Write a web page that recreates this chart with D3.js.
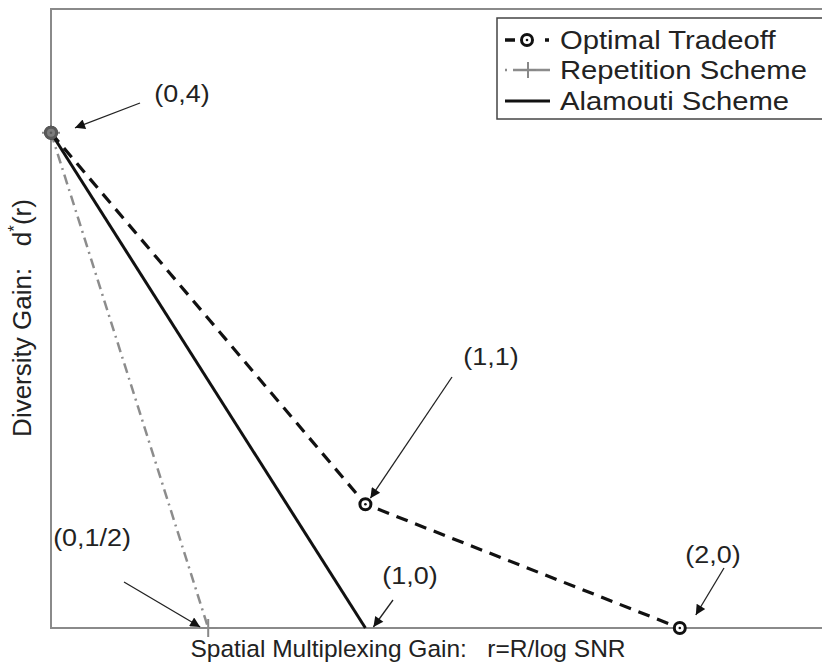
<!DOCTYPE html>
<html><head><meta charset="utf-8">
<script src="https://cdn.jsdelivr.net/npm/d3@7"></script>
<style>body{margin:0;background:#fff}svg{display:block}text{font-family:"Liberation Sans",Arial,sans-serif;fill:#222}</style>
</head><body><svg id="c" width="822" height="665"></svg>
<script>
const optimalR = [0, 1, 2];
const optimalD = [4, 1, 0];
const repetitionR = [0, 0.5];
const repetitionD = [4, 0];
const alamoutiR = [0, 1];
const alamoutiD = [4, 0];
const seriesNames = ["Optimal Tradeoff", "Repetition Scheme", "Alamouti Scheme"];
const annotations = [
  {label: "(0,4)", r: 0, d: 4},
  {label: "(1,1)", r: 1, d: 1},
  {label: "(2,0)", r: 2, d: 0},
  {label: "(1,0)", r: 1, d: 0},
  {label: "(0,1/2)", r: 0.5, d: 0}
];
const xLabel = "Spatial Multiplexing Gain:   r=R/log SNR";

const svg = d3.select("#c");
const L = 51, T = 9, B = 628, R = 837;
const x = d3.scaleLinear().domain([0, 2.5]).range([L, R]);
const y = d3.scaleLinear().domain([0, 5]).range([B, T]);

svg.append("path").attr("d", `M${R},${T}H${L}V${B}H${R}`)
  .attr("fill", "none").attr("stroke", "#8a8a8a").attr("stroke-width", 2);

const line = d3.line().x(d => x(d[0])).y(d => y(d[1]));
const zip = (a, b) => a.map((v, i) => [v, b[i]]);

svg.append("path").attr("d", line(zip(repetitionR, repetitionD)))
  .attr("fill", "none").attr("stroke", "#8c8c8c").attr("stroke-width", 2.5)
  .attr("stroke-dasharray", "10,5,2,5");
svg.append("path").attr("d", line(zip(alamoutiR, alamoutiD)))
  .attr("fill", "none").attr("stroke", "#111").attr("stroke-width", 3);
svg.append("path").attr("d", line(zip(optimalR, optimalD)))
  .attr("fill", "none").attr("stroke", "#111").attr("stroke-width", 3.2)
  .attr("stroke-dasharray", "12,8");

function plus(g, cx, cy, s, col) {
  g.append("path").attr("d", `M${cx - s},${cy}H${cx + s}M${cx},${cy - s}V${cy + s}`)
    .attr("stroke", col).attr("stroke-width", 2);
}
function circ(g, cx, cy) {
  g.append("circle").attr("cx", cx).attr("cy", cy).attr("r", 5.5)
    .attr("fill", "#fff").attr("stroke", "#111").attr("stroke-width", 3);
  g.append("circle").attr("cx", cx).attr("cy", cy).attr("r", 1.3).attr("fill", "#111");
}
zip(repetitionR, repetitionD).forEach(p => plus(svg, x(p[0]), y(p[1]), 9, "#888"));
zip(optimalR, optimalD).forEach(p => circ(svg, x(p[0]), y(p[1])));
svg.append("circle").attr("cx", x(0)).attr("cy", y(4)).attr("r", 7).attr("fill", "#666").attr("opacity", 0.85);

const defs = svg.append("defs");
defs.append("marker").attr("id", "ah").attr("viewBox", "0 0 10 10").attr("refX", 10).attr("refY", 5)
  .attr("markerWidth", 14).attr("markerHeight", 10).attr("markerUnits", "userSpaceOnUse").attr("orient", "auto")
  .append("path").attr("d", "M0,0L10,5L0,10Z").attr("fill", "#111");

const SX = 1.17;
function label(g, tx, ty, txt, fs, anchor) {
  g.append("text").attr("transform", `translate(${tx},${ty}) scale(${SX},1)`)
    .attr("text-anchor", anchor || "middle").attr("font-size", fs).text(txt);
}
const annPos = [
  {tx: 182, ty: 102, sx: 140, sy: 103, ex: x(0) + 24, ey: y(4) - 5},
  {tx: 491, ty: 365, sx: 452, sy: 377, ex: x(1) + 5, ey: y(1) - 6},
  {tx: 713, ty: 563, sx: 724, sy: 568, ex: x(2) + 16, ey: y(0) - 13},
  {tx: 410, ty: 584, sx: 393, sy: 600, ex: x(1) + 8, ey: y(0) - 1},
  {tx: 92, ty: 546, sx: 124, sy: 582, ex: x(0.5) - 8, ey: y(0) - 1}
];
annotations.forEach((a, i) => {
  const p = annPos[i];
  label(svg, p.tx, p.ty, a.label, 23);
  svg.append("line").attr("x1", p.sx).attr("y1", p.sy).attr("x2", p.ex).attr("y2", p.ey)
    .attr("stroke", "#222").attr("stroke-width", 1.3).attr("marker-end", "url(#ah)");
});

svg.append("text").attr("x", 408).attr("y", 657).attr("text-anchor", "middle").attr("font-size", 24.5)
  .attr("xml:space", "preserve").text(xLabel);
const yl = svg.append("text").attr("transform", "translate(31,318) rotate(-90)").attr("text-anchor", "middle")
  .attr("font-size", 26).attr("xml:space", "preserve");
yl.append("tspan").text("Diversity Gain:   d");
yl.append("tspan").attr("dy", -11).attr("font-size", 17).text("*");
yl.append("tspan").attr("dy", 11).text("(r)");

const lg = svg.append("g");
lg.append("rect").attr("x", 497).attr("y", 18).attr("width", 340).attr("height", 101)
  .attr("fill", "#fff").attr("stroke", "#444").attr("stroke-width", 1.5);
const rows = [40, 70, 101];
const lx0 = 505, lx1 = 550;
lg.append("line").attr("x1", lx0).attr("x2", lx1).attr("y1", rows[0]).attr("y2", rows[0])
  .attr("stroke", "#111").attr("stroke-width", 3.5).attr("stroke-dasharray", "10,30,4,20");
circ(lg, 527, rows[0]);
lg.append("line").attr("x1", lx0).attr("x2", lx1).attr("y1", rows[1]).attr("y2", rows[1])
  .attr("stroke", "#8c8c8c").attr("stroke-width", 2.5).attr("stroke-dasharray", "2,6,37");
plus(lg, 528, rows[1], 8, "#888");
lg.append("line").attr("x1", lx0).attr("x2", lx1).attr("y1", rows[2]).attr("y2", rows[2])
  .attr("stroke", "#111").attr("stroke-width", 3);
seriesNames.forEach((n, i) => label(lg, 560, rows[i] + 9, n, 25, "start"));
</script></body></html>
